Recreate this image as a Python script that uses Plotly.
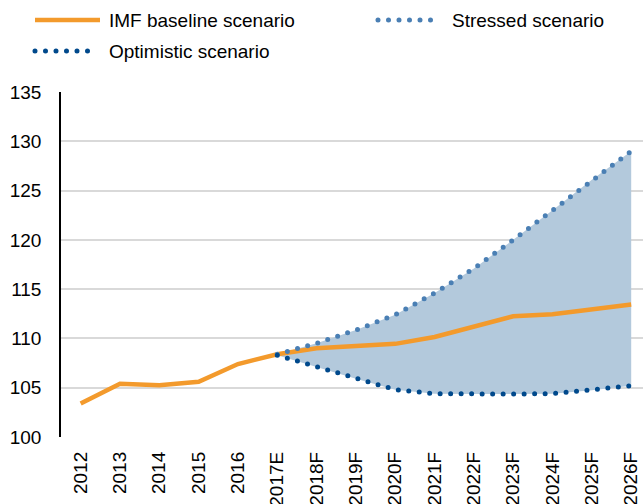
import plotly.graph_objects as go

categories = ["2012", "2013", "2014", "2015", "2016", "2017E", "2018F", "2019F",
              "2020F", "2021F", "2022F", "2023F", "2024F", "2025F", "2026F"]
baseline = [103.4, 105.4, 105.25, 105.6, 107.4, 108.4, 109.0, 109.25, 109.45,
            110.15, 111.2, 112.25, 112.45, 112.9, 113.45]
stressed = [None, None, None, None, None, 108.4, 109.5, 110.85, 112.4,
            114.6, 117.1, 120.0, 123.0, 126.1, 129.0]
optimistic = [None, None, None, None, None, 108.3, 107.1, 105.9, 104.8,
              104.4, 104.35, 104.35, 104.4, 104.75, 105.2]
legend_names = ["IMF baseline scenario", "Stressed scenario", "Optimistic scenario"]

ORANGE = "#f39a2c"
FILL = "#b3c9dc"
STRESS = "#4a7fb4"
OPTIM = "#00498c"
FONT = "Liberation Sans, Arial, sans-serif"

W, H = 643, 504
L, R, T, B = 61, 0, 92, 67
pw, ph = W - L - R, H - T - B

def px(x):
    return (x - L) / pw

def py(y):
    return (H - B - y) / ph

fig = go.Figure()
# band between optimistic and stressed
fig.add_trace(go.Scatter(x=categories, y=optimistic, mode="lines",
                         line=dict(width=0), hoverinfo="skip", showlegend=False))
fig.add_trace(go.Scatter(x=categories, y=stressed, mode="lines", fill="tonexty",
                         fillcolor=FILL, line=dict(width=0), hoverinfo="skip",
                         showlegend=False))
fig.add_trace(go.Scatter(x=categories, y=baseline, mode="lines", name=legend_names[0],
                         line=dict(color=ORANGE, width=4.5), showlegend=False))
fig.add_trace(go.Scatter(x=categories, y=stressed, mode="lines", name=legend_names[1],
                         line=dict(color=STRESS, width=5, dash="1px,9px"), showlegend=False))
fig.add_trace(go.Scatter(x=categories, y=optimistic, mode="lines", name=legend_names[2],
                         line=dict(color=OPTIM, width=5, dash="1px,9px"), showlegend=False))

# custom legend
leg = [
    (legend_names[0], ORANGE, "solid", 35, 100, 107, 20, 4.5),
    (legend_names[1], STRESS, "1px,9px", 378, 440, 450, 20, 5),
    (legend_names[2], OPTIM, "1px,9px", 35, 98, 107, 51, 5),
]
for name, col, dash, x0, x1, xt, yy, w in leg:
    fig.add_shape(type="line", xref="paper", yref="paper",
                  x0=px(x0), x1=px(x1), y0=py(yy), y1=py(yy),
                  line=dict(color=col, width=w, dash=dash))
    fig.add_annotation(xref="paper", yref="paper", x=px(xt), y=py(yy),
                       text=name, showarrow=False, xanchor="left", yanchor="middle",
                       font=dict(family=FONT, size=19, color="#000000"))

fig.update_layout(
    width=W, height=H,
    margin=dict(l=L, r=R, t=T, b=B, autoexpand=False),
    paper_bgcolor="white", plot_bgcolor="white",
    font=dict(family=FONT, size=19, color="#000000"),
    showlegend=False,
)
fig.update_xaxes(type="category", range=[-0.5, 14.3], showgrid=False,
                 tickangle=-90, ticks="", showline=False, zeroline=False,
                 ticklabelstandoff=10,
                 tickfont=dict(family=FONT, size=19, color="#000000"))
fig.update_yaxes(range=[100, 135], dtick=5, showgrid=True, gridcolor="#d9d9d9",
                 gridwidth=1.5, showline=True, linecolor="#000000", linewidth=1.5,
                 zeroline=False, ticks="", ticklabelstandoff=14,
                 tickfont=dict(family=FONT, size=19, color="#000000"))

post = """
(function(){
  document.body.style.margin = '0';
  document.body.style.overflow = 'hidden';
  function fix(){
    document.querySelectorAll('path').forEach(function(p){
      var d = p.style.strokeDasharray;
      if (d && d !== 'none' && d.indexOf('9') >= 0) {
        p.style.strokeDasharray = '0 10.5';
        p.style.strokeLinecap = 'round';
      }
    });
  }
  fix();
  var gd = document.getElementById('{plot_id}');
  if (gd && gd.on) { gd.on('plotly_afterplot', fix); }
})();
"""
fig.write_html("out.html", post_script=post, config={"displayModeBar": False})
